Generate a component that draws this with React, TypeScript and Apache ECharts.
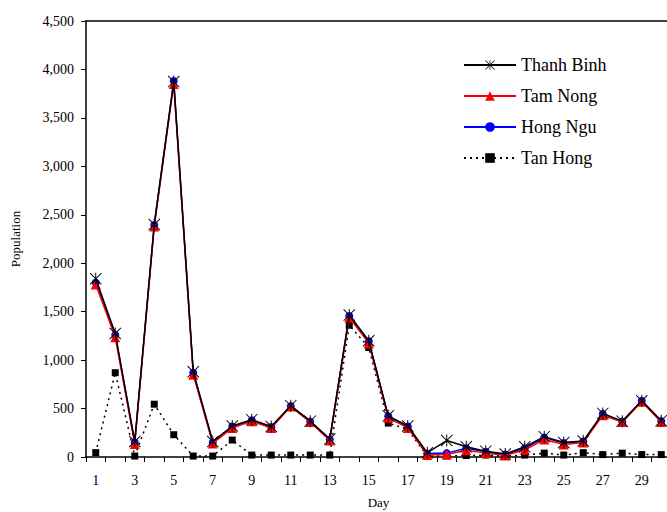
import React, { useEffect, useRef } from "react";
import * as echarts from "echarts";

const days = Array.from({ length: 30 }, (_, i) => String(i + 1));
const thanhBinh = [1840, 1275, 160, 2400, 3875, 880, 160, 320, 385, 315, 530, 370, 185, 1465, 1200, 425, 320, 45, 170, 105, 60, 30, 105, 210, 150, 165, 450, 370, 580, 375];
const tamNong = [1780, 1235, 135, 2380, 3850, 850, 140, 300, 370, 300, 520, 360, 170, 1440, 1175, 405, 300, 20, 25, 70, 40, 15, 75, 180, 130, 150, 430, 360, 570, 360];
const hongNgu = [1800, 1260, 150, 2395, 3880, 870, 150, 315, 380, 310, 525, 365, 180, 1455, 1195, 420, 315, 35, 40, 90, 55, 25, 90, 200, 145, 160, 445, 365, 580, 370];
const tanHong = [45, 870, 10, 545, 230, 10, 10, 175, 20, 20, 20, 20, 20, 1360, 1130, 350, 285, 10, 10, 15, 20, 10, 20, 40, 20, 45, 25, 40, 25, 25];
const seriesNames = ["Thanh Binh", "Tam Nong", "Hong Ngu", "Tan Hong"];

const FONT = "'Times New Roman', 'Liberation Serif', serif";
const asterisk =
  "path://M9.2,0 L10.8,0 L10.8,20 L9.2,20 Z M0,1.1 L1.1,0 L20,18.9 L18.9,20 Z M18.9,0 L20,1.1 L1.1,20 L0,18.9 Z";

const legendText = { fontFamily: FONT, fontSize: 18, fontWeight: "normal" as const, color: "#000" };

export default function App() {
  const ref = useRef<HTMLDivElement>(null);
  useEffect(() => {
    if (!ref.current) return;
    const chart = echarts.init(ref.current, undefined, { renderer: "svg" });
    chart.setOption({
      animation: false,
      backgroundColor: "#fff",
      textStyle: { fontFamily: FONT, color: "#000" },
      grid: { left: 86, top: 21, bottom: 55, right: -4, containLabel: false, outerBoundsMode: "none" },
      legend: {
        orient: "vertical",
        left: 463,
        top: 56,
        padding: 0,
        itemWidth: 52,
        itemHeight: 12,
        itemGap: 13,
        data: seriesNames.map((n) => ({ name: n, textStyle: legendText })),
        textStyle: legendText,
      },
      xAxis: [
        {
          type: "category",
          data: days,
          boundaryGap: true,
          name: "Day",
          nameLocation: "middle",
          nameGap: 39,
          nameTextStyle: { fontFamily: FONT, fontSize: 13, color: "#000" },
          axisLine: { lineStyle: { color: "#000", width: 1.5 } },
          axisTick: { show: true, length: 5, inside: false, interval: 0, lineStyle: { color: "#000" } },
          axisLabel: { interval: 1, margin: 16, fontFamily: FONT, fontSize: 14, color: "#000" },
          splitLine: { show: false },
        },
        {
          type: "category",
          data: days,
          position: "top",
          axisLine: { show: true, lineStyle: { color: "#000", width: 1.5 } },
          axisTick: { show: false },
          axisLabel: { show: false },
        },
      ],
      yAxis: {
        type: "value",
        min: 0,
        max: 4500,
        interval: 500,
        name: "Population",
        nameLocation: "middle",
        nameGap: 64,
        nameTextStyle: { fontFamily: FONT, fontSize: 13, color: "#000" },
        axisLine: { show: true, lineStyle: { color: "#000", width: 1.5 } },
        axisTick: { show: true, length: 5, lineStyle: { color: "#000" } },
        axisLabel: {
          margin: 12,
          fontFamily: FONT,
          fontSize: 14,
          color: "#000",
          formatter: (v: number) => v.toLocaleString("en-US"),
        },
        splitLine: { show: false },
      },
      series: [
        {
          name: "Thanh Binh",
          type: "line",
          data: thanhBinh,
          z: 5,
          symbol: asterisk,
          symbolSize: 12,
          lineStyle: { color: "#000", width: 1.5 },
          itemStyle: { color: "#000", borderWidth: 0 },
        },
        {
          name: "Tam Nong",
          type: "line",
          data: tamNong,
          z: 3,
          symbol: "triangle",
          symbolSize: 10,
          lineStyle: { color: "#ff0000", width: 1.5 },
          itemStyle: { color: "#ff0000", borderWidth: 0 },
        },
        {
          name: "Hong Ngu",
          type: "line",
          data: hongNgu,
          z: 2,
          symbol: "circle",
          symbolSize: 8,
          lineStyle: { color: "#0000ff", width: 1.5 },
          itemStyle: { color: "#0000ff", borderWidth: 0 },
        },
        {
          name: "Tan Hong",
          type: "line",
          data: tanHong,
          z: 1,
          symbol: "rect",
          symbolSize: 7,
          lineStyle: { color: "#000", width: 1.5, type: [2, 4] },
          itemStyle: { color: "#000", borderWidth: 0 },
        },
      ],
    });
    return () => chart.dispose();
  }, []);
  return (
    <div
      ref={ref}
      style={{ position: "fixed", left: 0, top: 0, width: 667, height: 512, background: "#fff" }}
    />
  );
}
